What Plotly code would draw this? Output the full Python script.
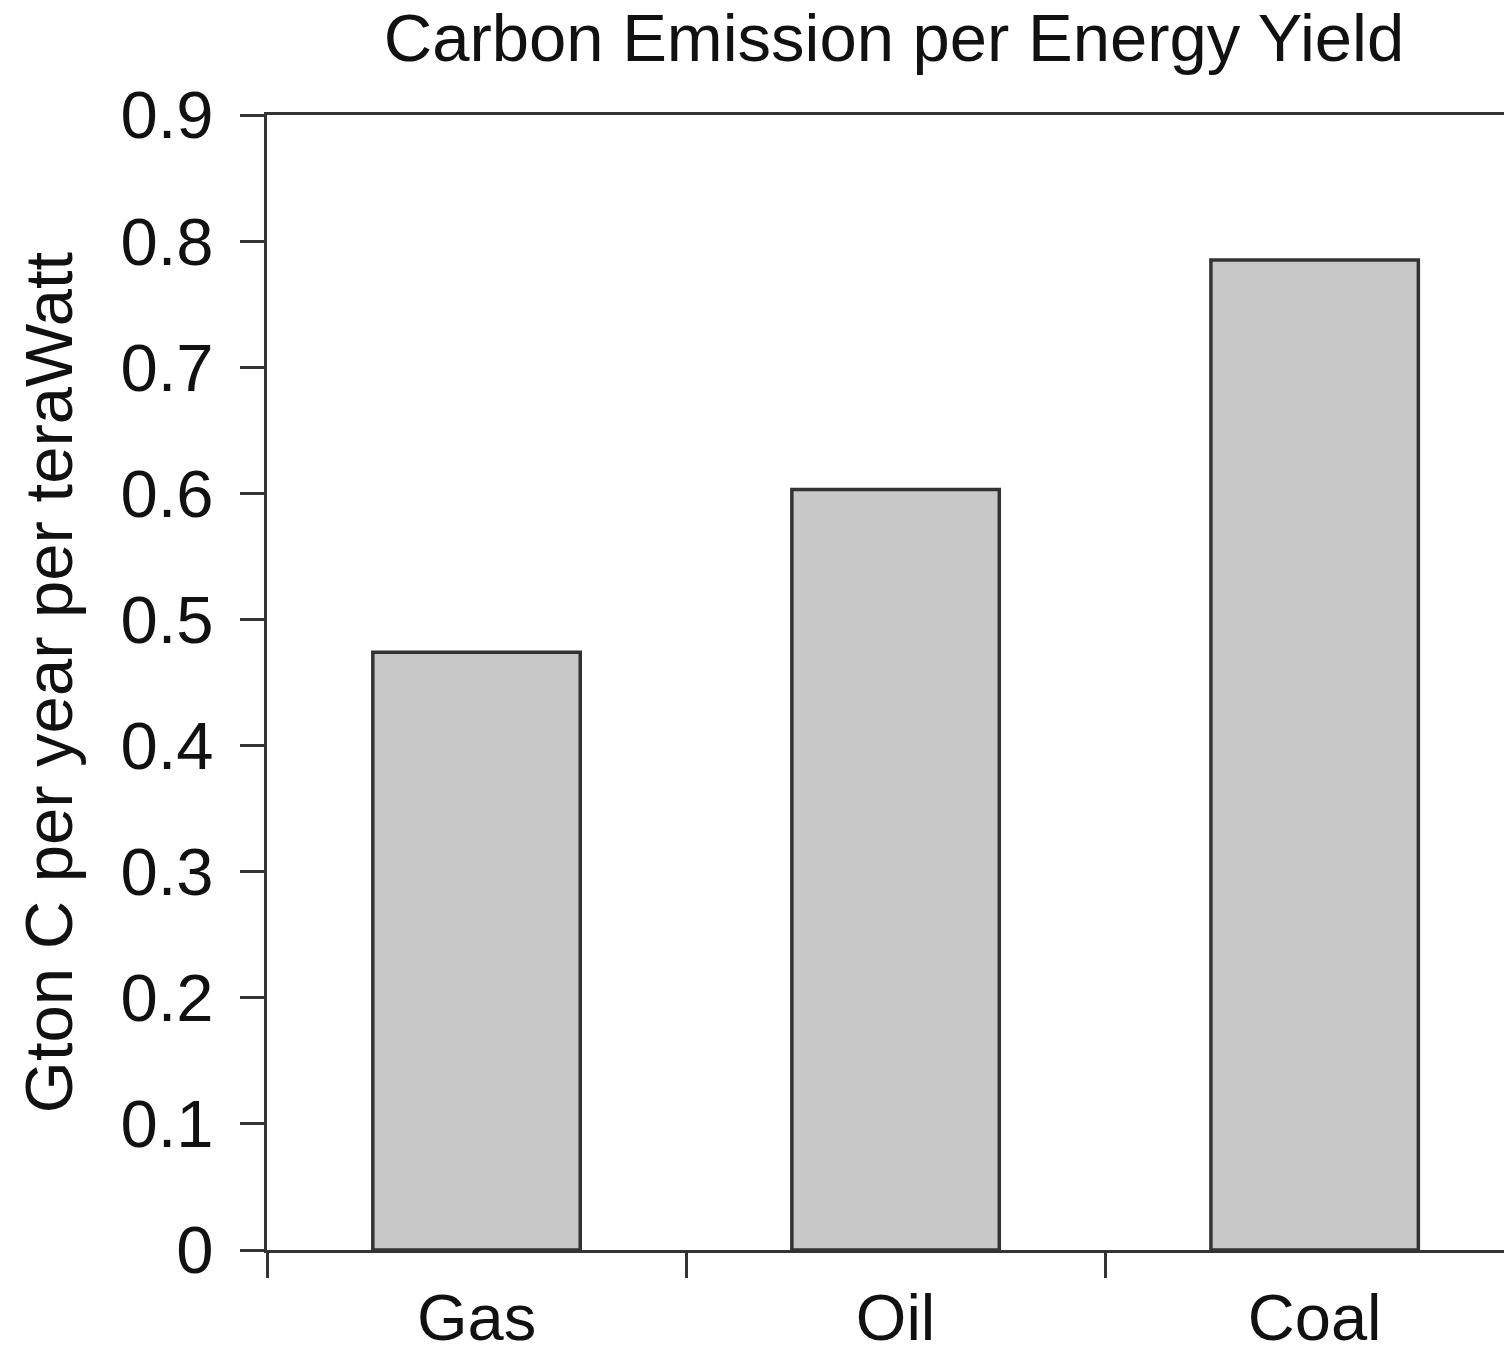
import plotly.graph_objects as go

categories = ["Gas", "Oil", "Coal"]
values = [0.474, 0.603, 0.785]
y_ticks = [0, 0.1, 0.2, 0.3, 0.4, 0.5, 0.6, 0.7, 0.8, 0.9]
y_tick_labels = ["0", "0.1", "0.2", "0.3", "0.4", "0.5", "0.6", "0.7", "0.8", "0.9"]

FONT = "Liberation Sans, Arial, Helvetica, sans-serif"
LINE = "#333333"
TXT = "#111111"

W, H = 1504, 1353

fig = go.Figure(
    go.Bar(
        x=categories,
        y=values,
        width=0.495,
        marker=dict(color="#c8c8c8", line=dict(color="#333333", width=3.5)),
    )
)

fig.update_layout(
    width=W,
    height=H,
    paper_bgcolor="white",
    plot_bgcolor="white",
    showlegend=False,
    margin=dict(l=259, r=0, t=107, b=111, autoexpand=False),
    font=dict(family=FONT, size=66, color=TXT),
    title=dict(
        text="Carbon Emission per Energy Yield",
        x=(894 - 8) / W,
        xref="container",
        xanchor="center",
        y=1 - 6 / H,
        yref="container",
        yanchor="top",
        pad=dict(t=0, b=0),
        font=dict(family=FONT, size=67, color=TXT),
    ),
)

fig.update_xaxes(
    type="category",
    range=[-0.5, 2.471],
    tickson="boundaries",
    ticks="outside",
    ticklen=25,
    tickwidth=3,
    tickcolor=LINE,
    showline=True,
    linecolor=LINE,
    linewidth=3,
    mirror=True,
    showgrid=False,
    zeroline=False,
    tickfont=dict(family=FONT, size=65, color=TXT),
    ticklabelstandoff=9,
    automargin=False,
)

fig.update_yaxes(
    range=[0, 0.9],
    tickvals=y_ticks,
    ticktext=y_tick_labels,
    ticks="outside",
    ticklen=24,
    tickwidth=3,
    tickcolor=LINE,
    showline=True,
    linecolor=LINE,
    linewidth=3,
    showgrid=False,
    zeroline=False,
    tickfont=dict(family=FONT, size=67, color=TXT),
    ticklabelstandoff=13,
    title=dict(
        text="Gton C per year per teraWatt",
        font=dict(family=FONT, size=67, color=TXT),
        standoff=27,
    ),
    automargin=False,
)

fig.write_html("out.html")
